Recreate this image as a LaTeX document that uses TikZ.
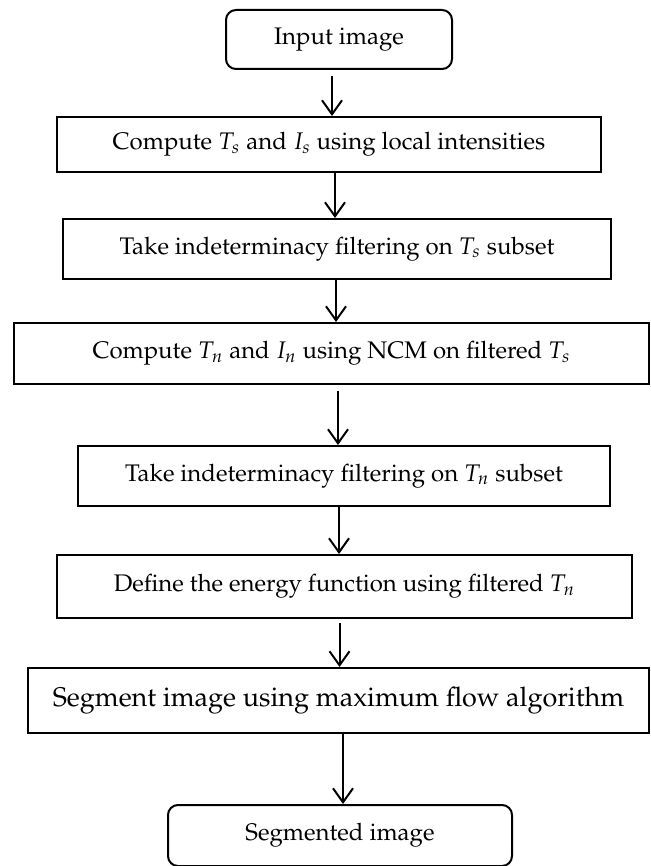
\documentclass[tikz,border=0pt]{standalone}
\usepackage[T1]{fontenc}
\usepackage{mathpazo}
\usepackage{tikz}
\usetikzlibrary{arrows.meta}
\usetikzlibrary{shapes.misc}

\begin{document}
\begin{tikzpicture}[x = .5pt, y = -.5pt,
  box/.style = {draw, line width = 1pt, rectangle, inner sep = 0,
    font = \fontsize{12}{14}\selectfont},
  rbox/.style = {box, rounded corners = 5pt},
  arr/.style = {line width = 1pt, -{Straight Barb[length = 7pt, width = 10pt, line width = 1pt]}}]
  \useasboundingbox (0, 0) rectangle (651, 866);
  % steps of the flow
  \node[rbox, minimum width = 113pt, minimum height = 29.5pt] (in) at (339, 39.5) {Input image};
  \node[box, minimum width = 272pt, minimum height = 27.5pt] (cs) at (329, 144.5)
    {Compute $T_s$ and $I_s$ using local intensities};
  \node[box, minimum width = 274pt, minimum height = 30pt] (fs) at (337, 249)
    {Take indeterminacy filtering on $T_s$ subset};
  \node[box, minimum width = 317.5pt, minimum height = 30.5pt] (cn) at (331.5, 353.5)
    {Compute $T_n$ and $I_n$ using NCM on filtered $T_s$};
  \node[box, minimum width = 266pt, minimum height = 30pt] (fn) at (344, 476)
    {Take indeterminacy filtering on $T_n$ subset};
  \node[box, minimum width = 287.5pt, minimum height = 31.5pt] (en) at (344.5, 586.5)
    {Define the energy function using filtered $T_n$};
  \node[box, minimum width = 310.5pt, minimum height = 32.5pt,
    font = \fontsize{13.5}{16}\selectfont] (sg) at (338.5, 700.5)
    {Segment image using maximum flow algorithm};
  \node[rbox, minimum width = 172pt, minimum height = 30.5pt] (out) at (340, 835.5) {Segmented image};
  % arrows
  \draw[arr, shorten < = 3pt] (in.south -| 332, 0) -- (cs.north -| 332, 0);
  \draw[arr] (cs.south -| 335, 0) -- (fs.north -| 335, 0);
  \draw[arr] (fs.south -| 336, 0) -- (cn.north -| 336, 0);
  \draw[arr, shorten < = 3pt] (cn.south -| 338, 0) -- (fn.north -| 338, 0);
  \draw[arr] (fn.south -| 339, 0) -- (en.north -| 339, 0);
  \draw[arr, shorten < = 2pt] (en.south -| 339.5, 0) -- (sg.north -| 339.5, 0);
  \draw[arr] (sg.south -| 343, 0) -- (out.north -| 343, 0);
\end{tikzpicture}
\end{document}
